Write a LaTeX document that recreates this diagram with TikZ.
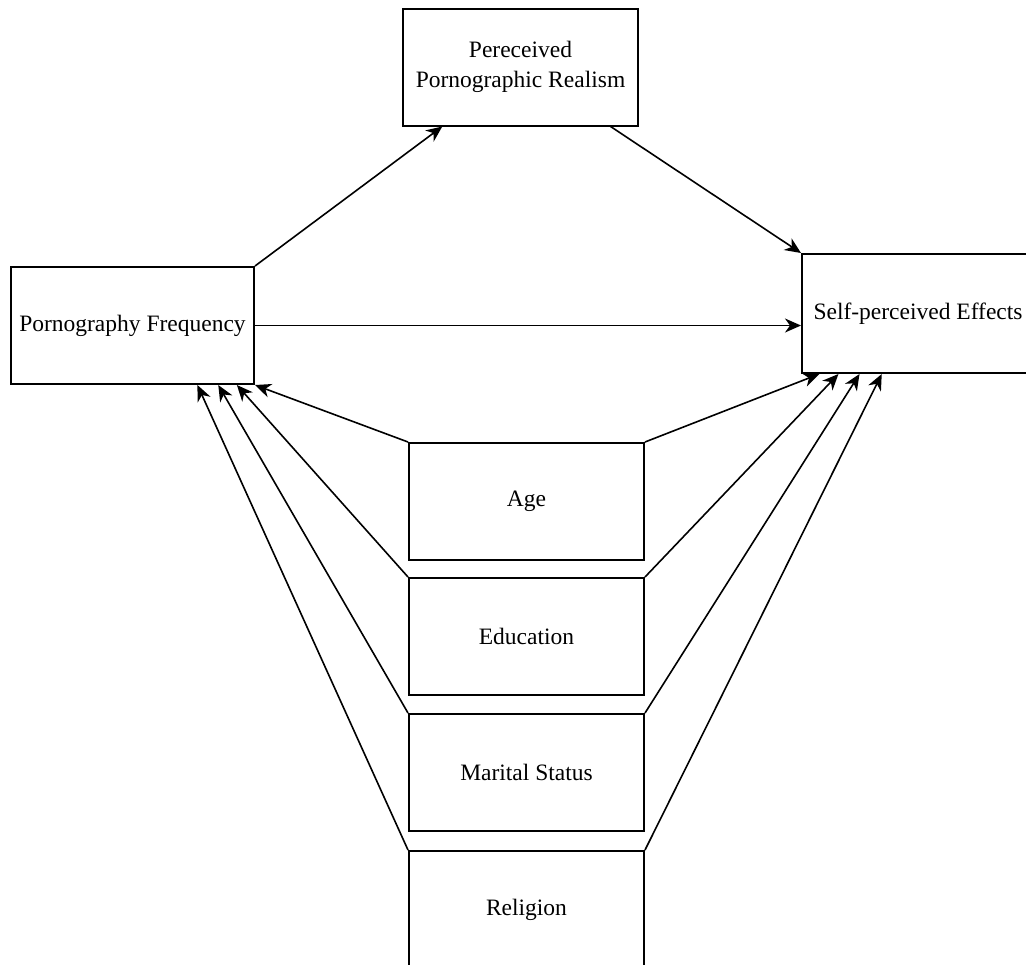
\documentclass[tikz,border=0pt]{standalone}
\usepackage{fontspec}
\setmainfont{Liberation Serif}
\usetikzlibrary{calc,arrows.meta}

\begin{document}
\begin{tikzpicture}[x=0.5pt,y=-0.5pt,
    box/.style={draw, line width=1pt, rectangle, minimum width=117.5pt, minimum height=58.5pt, align=center, font=\fontsize{11.75}{15}\selectfont},
    link/.style={-{Stealth[length=8pt,width=7pt,inset=2.5pt]}, line width=0.8pt}]
    \useasboundingbox (0,0) rectangle (1026,964);

    % Mediator and outcome
    \node[box] (realism) at (520.5,67) {Pereceived\\Pornographic Realism};
    \node[box, minimum width=121.5pt] (freq) at (132.5,325.5) {Pornography Frequency};
    \node[box, minimum width=116pt, minimum height=59.5pt] (effects) at (918,313.5) {Self-perceived Effects};

    % Controls
    \node[box] (age) at (526.5,501.5) {Age};
    \node[box] (edu) at (526.5,636.5) {Education};
    \node[box] (marital) at (526.5,772.5) {Marital Status};
    \node[box] (religion) at (526.5,909.5) {Religion};

    % Main paths
    \draw[link] (freq.north east) -- ($(realism.south west)!0.17!(realism.south east)$);
    \draw[link] ($(realism.south west)!0.88!(realism.south east)$) -- (effects.north west);
    \draw[link] (freq.east) -- (freq.east -| effects.west);

    % Control paths
    \foreach \ctl/\pa/\pb in {age/1/0.078, edu/0.926/0.16, marital/0.85/0.25, religion/0.765/0.345} {
        \draw[link] (\ctl.north west) -- ($(freq.south west)!\pa!(freq.south east)$);
        \draw[link] (\ctl.north east) -- ($(effects.south west)!\pb!(effects.south east)$);
    }
\end{tikzpicture}
\end{document}
